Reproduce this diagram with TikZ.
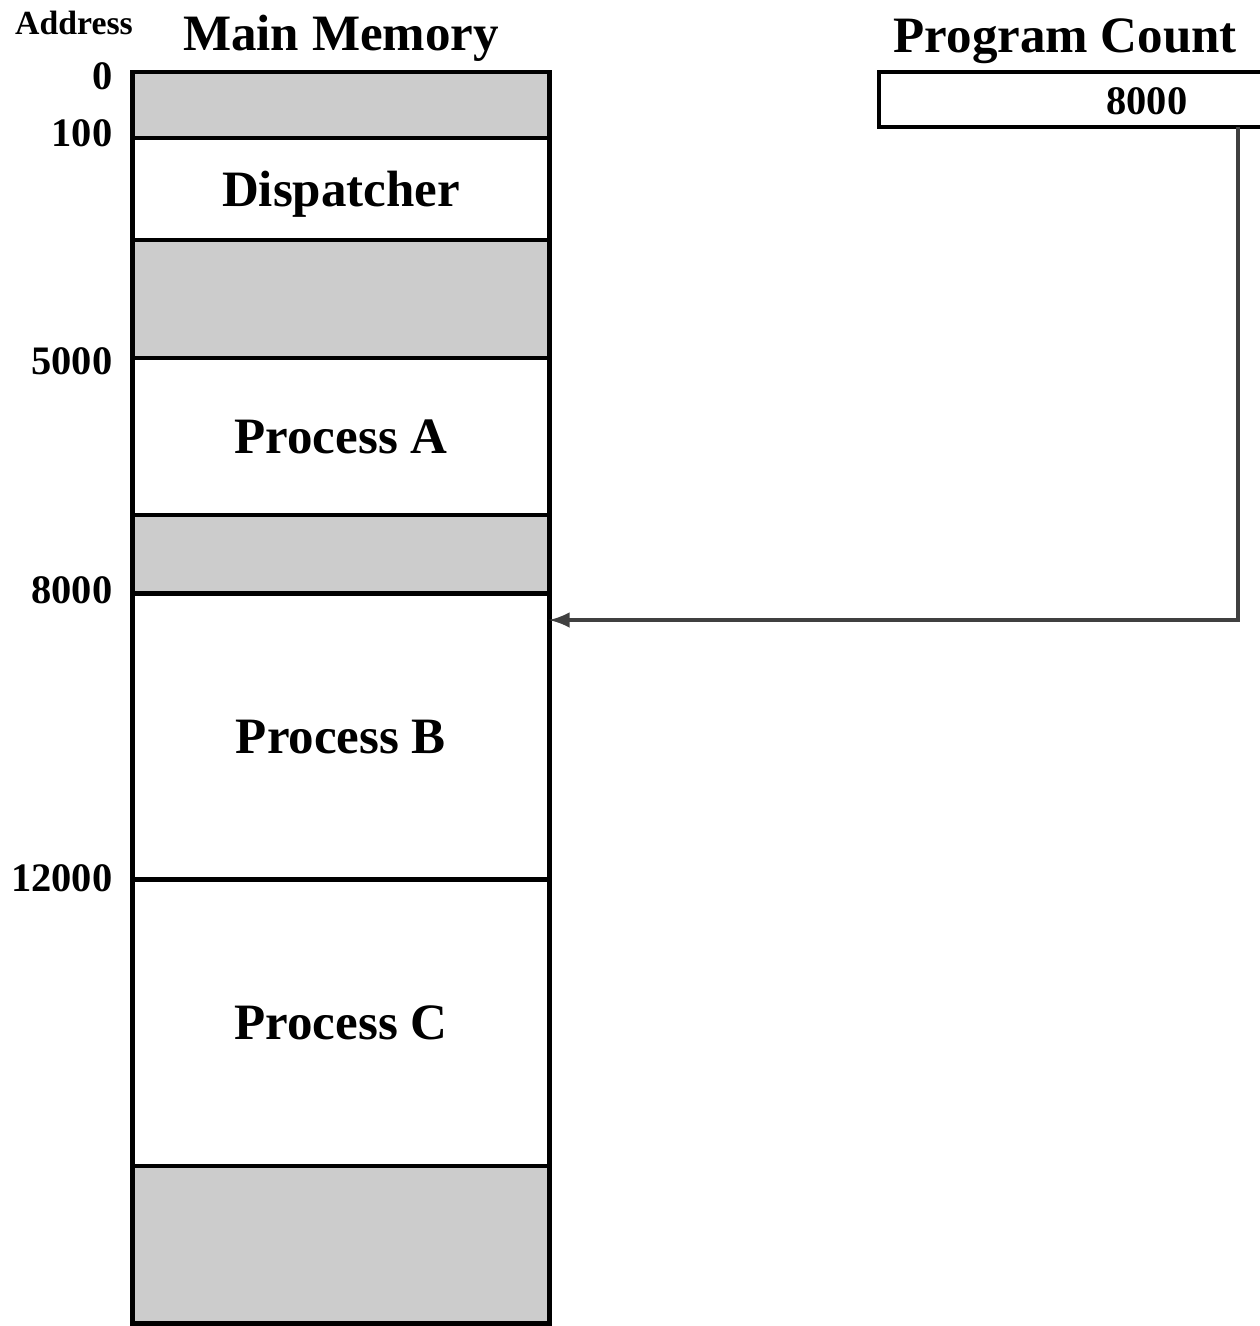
\documentclass[tikz,border=0pt]{standalone}
\usepackage{fontspec}
\setmainfont{Liberation Serif}
\usepackage{tikz}
\usetikzlibrary{positioning}
\usetikzlibrary{calc}
\tikzset{memBox/.style={draw, line width=1.4pt, minimum width=4.16cm, inner sep=0pt, outer sep=0pt, text depth=0pt, fill=white, font=\fontsize{14.5}{17}\selectfont\bfseries}}
\tikzset{memBoxFree/.style={memBox, fill=black!20}}
\tikzset{addrLbl/.style={anchor=base east, inner sep=0pt, font=\fontsize{11.5}{13}\selectfont\bfseries}}
\tikzset{titleLbl/.style={inner sep=0pt, font=\fontsize{14.5}{17}\selectfont\bfseries}}

\begin{document}
\begin{tikzpicture}[x=0.01cm, y=-0.01cm]
\useasboundingbox (0,0) rectangle (1259,1326);

\node[titleLbl, anchor=base] (addrTitle) at (74, 34) {\fontsize{9.6}{11}\selectfont Address};
\node[titleLbl, anchor=base] (memTitle) at (341, 50) {Main Memory};
\node[titleLbl, anchor=base west] (pcTitle) at (893, 52) {Program Count};

\node[memBoxFree, minimum height=0.66cm] (free1) at (341, 105) {};
\node[memBox, minimum height=1.02cm] (disp) at (341, 189) {Dispatcher};
\node[memBoxFree, minimum height=1.18cm] (free2) at (341, 299) {};
\node[memBox, minimum height=1.57cm] (procA) at (341, 436.5) {Process A};
\node[memBoxFree, minimum height=0.79cm] (free3) at (341, 554.5) {};
\node[memBox, minimum height=2.86cm] (procB) at (341, 737) {Process B};
\node[memBox, minimum height=2.86cm] (procC) at (341, 1023) {Process C};
\node[memBoxFree, minimum height=1.57cm] (free4) at (341, 1244.5) {};

\node[addrLbl] (a0) at (113, 89) {0};
\node[addrLbl] (a100) at (113, 146) {100};
\node[addrLbl] (a5000) at (113, 374) {5000};
\node[addrLbl] (a8000) at (113, 603) {8000};
\node[addrLbl] (a12000) at (113, 891) {12000};

\draw[line width=1.4pt] (1262, 72) -- (879, 72) -- (879, 127) -- (1262, 127);
\node[addrLbl] (pcVal) at (1188, 114) {8000};

\coordinate (pcOut) at (1238, 127);
\coordinate (pcIn) at (procB.east |- 0, 620);
\draw[->, >=latex, line width=1pt, black!75] (pcOut) |- (pcIn);

\end{tikzpicture}
\end{document}
